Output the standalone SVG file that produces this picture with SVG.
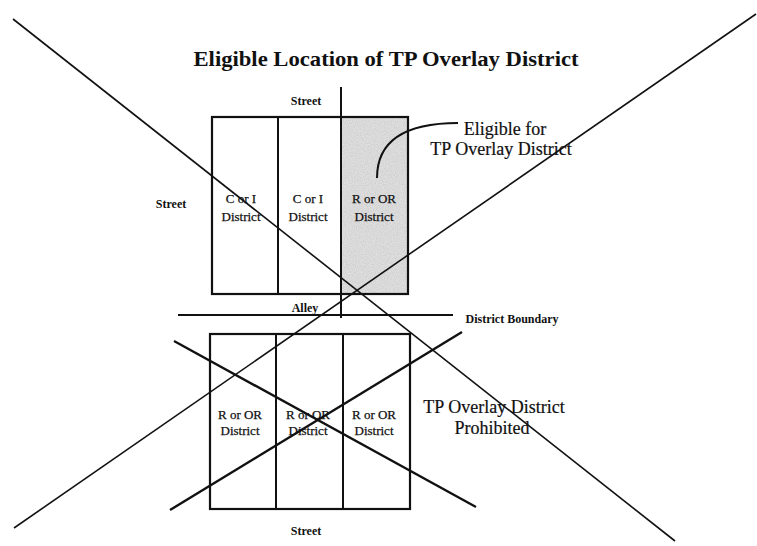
<svg xmlns="http://www.w3.org/2000/svg" width="757" height="546" viewBox="0 0 757 546">
<style>
.t{font-family:"Liberation Serif","Times New Roman",serif;fill:#111}
.title{font-size:22px;font-weight:bold}
.sm{font-size:12px;font-weight:bold}
.lbl{font-size:13px;stroke:#111;stroke-width:0.25}
.big{font-size:18px;stroke:#111;stroke-width:0.2}
.box{fill:none;stroke:#111;stroke-width:2.2}
.ln{stroke:#111;fill:none}
</style>
<defs>
<filter id="noise" x="0" y="0" width="100%" height="100%">
<feTurbulence type="fractalNoise" baseFrequency="0.9" numOctaves="2" seed="3" result="n"/>
<feColorMatrix in="n" type="matrix" values="0 0 0 0 0.55  0 0 0 0 0.55  0 0 0 0 0.55  0 0 0 1.2 -0.35" result="g"/>
<feComposite in="g" in2="SourceGraphic" operator="in"/>
</filter>
</defs>
<rect width="757" height="546" fill="#fff"/>
<text class="t title" x="386" y="66" text-anchor="middle" textLength="385" lengthAdjust="spacingAndGlyphs">Eligible Location of TP Overlay District</text>

<g id="upper-block">
<rect x="342" y="117" width="66" height="177" fill="#e0e0e0"/>
<rect x="342" y="117" width="66" height="177" fill="#fff" filter="url(#noise)"/>
<rect class="box" x="212" y="117" width="196" height="177"/>
<line class="ln" x1="278" y1="117" x2="278" y2="294" stroke-width="2"/>
</g>
<g id="street-top"><text class="t sm" x="306" y="105" text-anchor="middle">Street</text></g>
<g id="street-left"><text class="t sm" x="171" y="208" text-anchor="middle">Street</text></g>
<g id="upper-c1"><text class="t lbl" x="241" y="203" text-anchor="middle">C or I</text><text class="t lbl" x="241" y="221" text-anchor="middle">District</text></g>
<g id="upper-c2"><text class="t lbl" x="308" y="203" text-anchor="middle">C or I</text><text class="t lbl" x="308" y="221" text-anchor="middle">District</text></g>
<g id="upper-c3"><text class="t lbl" x="374" y="203" text-anchor="middle">R or OR</text><text class="t lbl" x="374" y="221" text-anchor="middle">District</text></g>
<g id="eligible-label"><text class="t big" x="505" y="135" text-anchor="middle">Eligible for</text><text class="t big" x="501" y="155" text-anchor="middle">TP Overlay District</text></g>

<g id="alley"><text class="t sm" x="305" y="312" text-anchor="middle">Alley</text></g>
<g id="district-boundary"><text class="t sm" x="512" y="323" text-anchor="middle">District Boundary</text></g>

<g id="lower-block">
<rect class="box" x="210" y="334" width="200" height="175"/>
<line class="ln" x1="276" y1="334" x2="276" y2="509" stroke-width="2"/>
<line class="ln" x1="343" y1="334" x2="343" y2="509" stroke-width="2"/>
</g>
<g id="lower-c1"><text class="t lbl" x="240" y="419" text-anchor="middle">R or OR</text><text class="t lbl" x="240" y="435" text-anchor="middle">District</text></g>
<g id="lower-c2"><text class="t lbl" x="308" y="419" text-anchor="middle">R or OR</text><text class="t lbl" x="308" y="435" text-anchor="middle">District</text></g>
<g id="lower-c3"><text class="t lbl" x="374" y="419" text-anchor="middle">R or OR</text><text class="t lbl" x="374" y="435" text-anchor="middle">District</text></g>
<g id="prohibited-label"><text class="t big" x="494" y="413" text-anchor="middle">TP Overlay District</text><text class="t big" x="492" y="434" text-anchor="middle">Prohibited</text></g>
<g id="street-bottom"><text class="t sm" x="306" y="535" text-anchor="middle">Street</text></g>

<g id="connectors">
<line class="ln" x1="341" y1="87" x2="341" y2="318" stroke-width="2"/>
<line class="ln" x1="178" y1="315" x2="453" y2="315" stroke-width="2"/>
<path class="ln" d="M377,178 C377,140 405,123 458,123" stroke-width="2"/>
<line class="ln" x1="174" y1="341" x2="476" y2="507" stroke-width="2.4"/>
<line class="ln" x1="462" y1="332" x2="170" y2="510" stroke-width="2.4"/>
<line class="ln" x1="13" y1="19" x2="675" y2="541" stroke-width="1.6"/>
<line class="ln" x1="756" y1="14" x2="14" y2="528" stroke-width="1.6"/>
</g>
</svg>
